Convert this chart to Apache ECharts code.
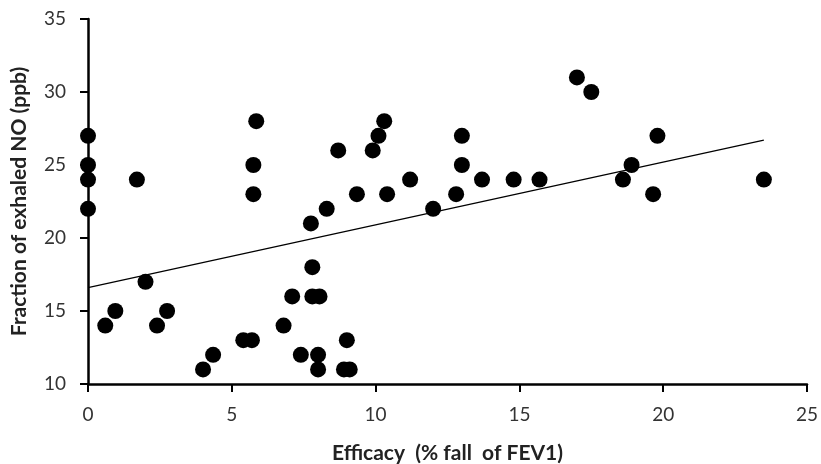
<!DOCTYPE html>
<html>
<head>
<meta charset="utf-8">
<script src="https://cdn.jsdelivr.net/npm/echarts@6/dist/echarts.min.js"></script>
<style>
  html, body { margin: 0; padding: 0; background: #fff; }
  #chart { width: 821px; height: 464px; }
</style>
</head>
<body>
<div id="chart"></div>
<script>
  // efficacy (% fall of FEV1) per subject
  var efficacy = [0, 0, 0, 0, 0.6, 0.95, 1.7, 2.0, 2.4, 2.75, 4.0, 4.35, 5.4, 5.7,
    5.75, 5.75, 5.85, 6.8, 7.1, 7.4, 7.75, 7.8, 7.8, 8.05, 8.0, 8.0, 8.3, 8.7,
    8.9, 9.1, 9.0, 9.35, 9.9, 10.1, 10.3, 10.4, 11.2, 12.0, 12.8, 13.0, 13.0,
    13.7, 14.8, 15.7, 17.0, 17.5, 18.6, 18.9, 19.65, 19.8, 23.5];
  // fraction of exhaled NO (ppb)
  var feno = [27, 25, 24, 22, 14, 15, 24, 17, 14, 15, 11, 12, 13, 13,
    23, 25, 28, 14, 16, 12, 21, 18, 16, 16, 12, 11, 22, 26,
    11, 11, 13, 23, 26, 27, 28, 23, 24, 22, 23, 25, 27,
    24, 24, 24, 31, 30, 24, 25, 23, 27, 24];
  // linear trend line ends
  var trendX = [0, 23.5];
  var trendY = [16.6, 26.7];
  var xTicks = [0, 5, 10, 15, 20, 25];
  var yTicks = [10, 15, 20, 25, 30, 35];

  var myChart = echarts.init(document.getElementById('chart'));

  var points = efficacy.map(function (x, i) { return [x, feno[i]]; });
  var trend = trendX.map(function (x, i) { return [x, trendY[i]]; });

  var axisFont = "Lato, 'Liberation Sans', sans-serif";

  var option = {
    animation: false,
    grid: {
      left: 88,
      right: 14,
      top: 19,
      bottom: 80,
      containLabel: false,
      outerBoundsMode: 'none'
    },
    xAxis: {
      type: 'value',
      min: xTicks[0],
      max: xTicks[xTicks.length - 1],
      interval: 5,
      name: 'Efficacy  (% fall  of FEV1)',
      nameLocation: 'middle',
      nameGap: 59,
      nameTextStyle: {
        fontFamily: axisFont,
        fontWeight: 'bold',
        fontSize: 21,
        color: '#222'
      },
      axisLine: { onZero: false, lineStyle: { color: '#000', width: 2.5 } },
      axisTick: { inside: false, length: 8, lineStyle: { color: '#000', width: 2 } },
      axisLabel: { margin: 21, fontFamily: axisFont, fontSize: 19, color: '#333' },
      splitLine: { show: false }
    },
    yAxis: {
      type: 'value',
      min: yTicks[0],
      max: yTicks[yTicks.length - 1],
      interval: 5,
      name: 'Fraction of exhaled NO (ppb)',
      nameLocation: 'middle',
      nameGap: 58,
      nameTextStyle: {
        fontFamily: axisFont,
        fontWeight: 'bold',
        fontSize: 21,
        color: '#222'
      },
      axisLine: { onZero: false, lineStyle: { color: '#000', width: 2.5 } },
      axisTick: { inside: false, length: 8, lineStyle: { color: '#000', width: 2 } },
      axisLabel: { margin: 22, fontFamily: axisFont, fontSize: 19, color: '#333' },
      splitLine: { show: false }
    },
    series: [
      {
        type: 'line',
        data: trend,
        symbol: 'none',
        lineStyle: { color: '#000', width: 1.2 },
        z: 1
      },
      {
        type: 'scatter',
        data: points,
        symbol: 'circle',
        symbolSize: 16,
        itemStyle: { color: '#000', opacity: 1 },
        z: 3
      }
    ]
  };
  myChart.setOption(option);
</script>
</body>
</html>
